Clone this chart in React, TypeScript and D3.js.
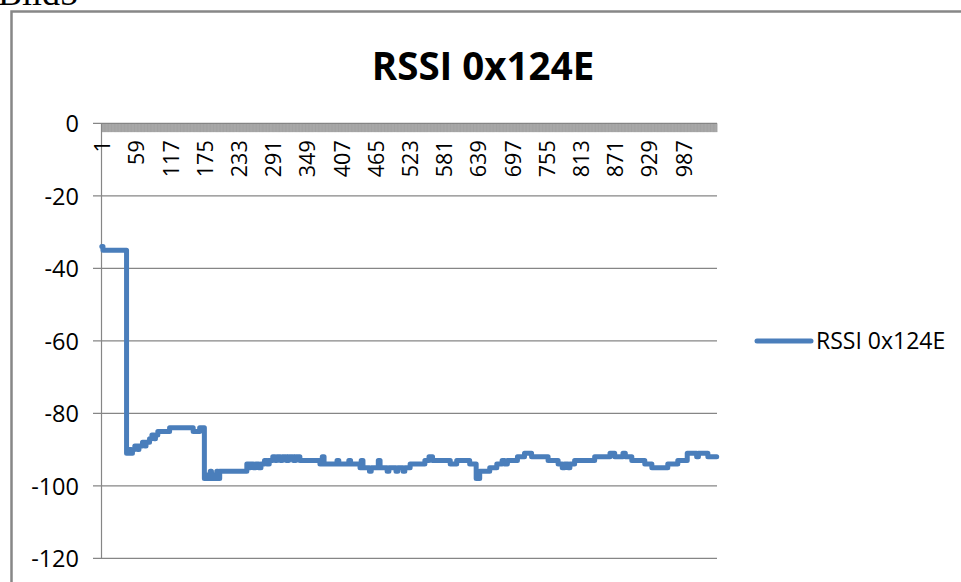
import React from 'react';
import * as d3 from 'd3';

// ---- data ----
const pageCaption = 'Bild5';
const chartTitle = 'RSSI 0x124E';
const seriesName = 'RSSI 0x124E';
const categoryCount = 1044; // categories 1..1044
const labelStep = 58;
const yTicks = [0, -20, -40, -60, -80, -100, -120];

// RSSI step series: index where a new value starts, and that value
const changeIndex = [
  1, 3, 43, 48, 51, 53, 57, 62, 64, 70, 74, 76, 82, 86, 90, 92, 96, 116, 156, 167,
  175, 179, 181, 185, 187, 191, 193, 196, 198, 201,
  247, 251, 253, 258, 262, 267, 271, 277, 281, 285, 291, 295, 298, 304, 307, 314, 318, 326, 330,
  337, 371, 375, 378, 400, 403, 420, 423, 439, 441, 444, 455, 458, 470, 473, 485, 488, 500, 503, 512, 515,
  524, 549, 556, 562, 592, 603, 625, 636, 642, 659, 671, 680, 684, 689,
  706, 718, 730, 758, 775, 782, 786, 792, 795, 803, 837, 863, 871, 885, 889, 900, 922, 934, 961, 978,
  994, 1010, 1013, 1029, 1044,
];
const changeValue = [
  -34, -35, -91, -90, -91, -90, -89, -90, -89, -88, -89, -88, -87, -86, -87, -86, -85, -84, -85, -84,
  -98, -97, -98, -96, -98, -97, -98, -96, -98, -96,
  -94, -95, -94, -95, -94, -95, -94, -93, -94, -93, -92, -93, -92, -93, -92, -93, -92, -93, -92,
  -93, -94, -92, -94, -93, -94, -93, -94, -95, -93, -95, -96, -95, -93, -95, -96, -95, -96, -95, -96, -95,
  -94, -93, -92, -93, -94, -93, -94, -98, -96, -95, -94, -93, -94, -93,
  -92, -91, -92, -93, -94, -95, -94, -95, -94, -93, -92, -91, -92, -91, -92, -93, -94, -95, -94, -93,
  -91, -92, -91, -92, -92,
];

const W = 961;
const H = 582;
const plot = { left: 101.5, right: 717, top: 123.3, bottom: 558.3 };
const lineColor = '#4a7ebb';
const gridColor = '#868686';
const font = '"Open Sans", "Noto Sans", sans-serif';

export default function App() {
  const categories = d3.range(1, categoryCount + 1);
  const x = d3
    .scaleBand<number>()
    .domain(categories)
    .range([plot.left, plot.right])
    .paddingInner(0)
    .paddingOuter(0);
  const y = d3.scaleLinear().domain([-120, 0]).range([plot.bottom, plot.top]);
  const cx = (i: number) => (x(i) as number) + x.bandwidth() / 2;

  const pts: [number, number][] = changeIndex.map((c, k) => [c, changeValue[k]]);
  const line = d3
    .line<[number, number]>()
    .x((d) => cx(d[0]))
    .y((d) => y(d[1]))
    .curve(d3.curveStepAfter);

  const boundaries = categories.map((c) => x(c) as number).concat([plot.right]);
  const labelCats = categories.filter((c) => (c - 1) % labelStep === 0);

  return (
    <svg
      width={W}
      height={H}
      style={{ position: 'absolute', left: 0, top: 0, background: '#fff' }}
    >
      <text x={-2} y={5} fontFamily='"Liberation Serif", "Times New Roman", serif' fontSize={36} fill="#000">
        {pageCaption}
      </text>
      <rect x={11.5} y={11.5} width={W + 20} height={H + 20} fill="#fff" stroke="#878787" strokeWidth={2.5} />

      <text x={483} y={80} textAnchor="middle" fontFamily={font} fontWeight={700} fontSize={38.5} fill="#000">
        {chartTitle}
      </text>

      {/* gridlines */}
      {yTicks.map((t) => (
        <line key={'g' + t} x1={plot.left - 8.5} x2={plot.right} y1={y(t)} y2={y(t)} stroke={gridColor} strokeWidth={1.2} />
      ))}
      {/* y axis */}
      <line x1={plot.left} x2={plot.left} y1={plot.top} y2={plot.bottom} stroke={gridColor} strokeWidth={1.2} />
      {yTicks.map((t) => (
        <text key={'yl' + t} x={79} y={y(t)} textAnchor="end" dominantBaseline="central" fontFamily={font} fontSize={23.5} fill="#000">
          {t}
        </text>
      ))}

      {/* category axis tick marks (dense -> band) */}
      <g opacity={0.85}>
        {boundaries.map((b, k) => (
          <line key={'t' + k} x1={b} x2={b} y1={plot.top} y2={plot.top + 8.8} stroke={gridColor} strokeWidth={0.8} />
        ))}
      </g>
      {labelCats.map((c) => (
        <text
          key={'xl' + c}
          transform={`translate(${cx(c)},${plot.top + 17}) rotate(-90)`}
          textAnchor="end"
          dominantBaseline="central"
          fontFamily={font}
          fontSize={21.5}
          fill="#000"
        >
          {c}
        </text>
      ))}

      <path d={line(pts) || ''} fill="none" stroke={lineColor} strokeWidth={5} strokeLinejoin="round" strokeLinecap="round" />

      {/* legend */}
      <line x1={757} x2={811} y1={341} y2={341} stroke={lineColor} strokeWidth={5} strokeLinecap="round" />
      <text x={816} y={349} fontFamily={font} fontSize={23} fill="#000">
        {seriesName}
      </text>
    </svg>
  );
}
